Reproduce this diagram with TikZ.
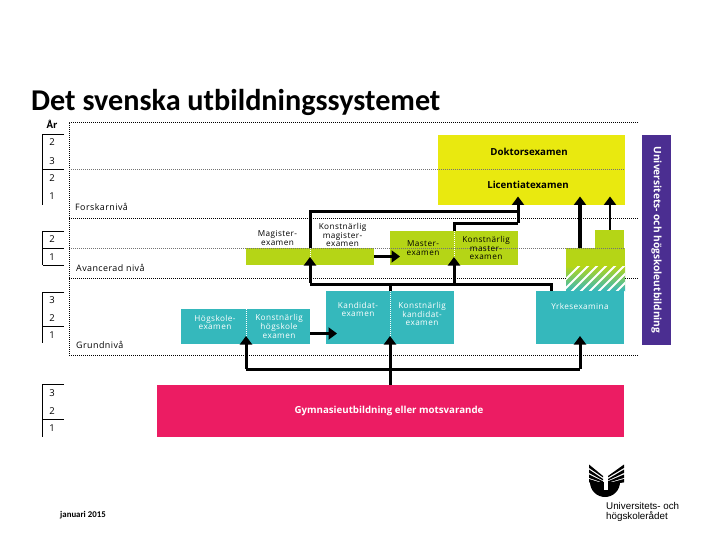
\documentclass[tikz,border=0pt]{standalone}
\usepackage{fontspec}
\setmainfont{Open Sans}
\newfontfamily\titlefont{Carlito}
\newfontfamily\logofont{Liberation Sans}
\newfontfamily\labfont[LetterSpace=5]{Open Sans}
\usetikzlibrary{arrows.meta}
\definecolor{cyellow}{HTML}{E9E90F}
\definecolor{cgreen}{HTML}{B5D516}
\definecolor{cteal}{HTML}{35B8BC}
\definecolor{cpink}{HTML}{EC1C63}
\definecolor{cpurple}{HTML}{4B2E91}
\tikzset{
  x=1pt,y=-1pt,
  blk/.style={fill=#1,draw=none,inner sep=0pt,outer sep=0pt,anchor=north west},
  lab/.style={font=\fontsize{8.2}{8.6}\selectfont\labfont,align=center,inner sep=0pt,text=#1},
  lab/.default=black,
  big/.style={font=\fontsize{9.7}{10}\selectfont\bfseries,inner sep=0pt,text=#1},
  big/.default=black,
  lvl/.style={font=\fontsize{8.9}{10}\selectfont\labfont,inner sep=0pt,anchor=base west},
  num/.style={font=\fontsize{9.5}{10}\selectfont,inner sep=0pt},
  dot/.style={line width=0.8pt,dash pattern=on 1pt off 1pt},
  ldot/.style={line width=0.7pt,dash pattern=on 1pt off 1pt,black!55},
  wdot/.style={line width=0.8pt,dash pattern=on 1pt off 1pt,white},
  scale line/.style={line width=0.8pt},
  conn/.style={line width=3pt,line cap=butt,line join=miter},
  tip/.style={-{Triangle[length=8.5pt,width=12pt]}},
}
\newcommand{\bx}[6]{\node[blk=#2,minimum width=#5-#3,minimum height=#6-#4] (#1) at (#3,#4) {};}
\begin{document}
\begin{tikzpicture}
\useasboundingbox (0,0) rectangle (720,540);
% title
\node[anchor=base west,inner sep=0pt,font=\fontsize{30.2}{32}\selectfont\titlefont\bfseries] (title) at (31,111) {Det svenska utbildningssystemet};
% boxes
\bx{yel}{cyellow}{438}{135}{625}{205}
\bx{pur}{cpurple}{642}{135}{671}{345}
\bx{mag}{cgreen}{246}{248}{374}{265}
\bx{mas}{cgreen}{390}{231}{518}{265}
\bx{grA}{cgreen}{566}{248}{625}{268}
\bx{grB}{cgreen}{595}{230}{624}{248}
\node[inner sep=0pt,outer sep=0pt,anchor=north west,minimum width=59pt,minimum height=25pt,top color=cgreen,bottom color=cteal] (hat) at (566,266) {};
\begin{scope}
\clip (566,266.5) rectangle (625,291);
\foreach \k in {0,...,9}{
  \draw[white,line width=2pt] ({552+\k*9},293) -- ({580+\k*9},265);
}
\end{scope}
\bx{yrk}{cteal}{536}{291}{624}{344}
\bx{kan}{cteal}{326}{291}{454}{344}
\bx{hog}{cteal}{181}{309}{310}{344}
\bx{pink}{cpink}{157}{385}{624}{437}
% dotted guides
\coordinate (fTL) at (69,122); \coordinate (fTR) at (638,122);
\coordinate (fBL) at (69,355); \coordinate (fBR) at (638,355);
\draw[dot] (fTR) -- (fTL) -- (fBL) -- (fBR);
\draw[dot] (69,218) -- (638,218);
\draw[dot] (69,278) -- (566,278);
\draw[dot] (625,278) -- (638,278);
\draw[ldot] (69,169) -- (625,169);
\draw[ldot] (69,248) -- (625,248);
% white divider dots
\draw[wdot] (246,309) -- (246,338);
\draw[wdot] (390,291) -- (390,338);
\draw[wdot] (310,248) -- (310,258);
\draw[wdot] (454,231) -- (454,258);
% year scales
\foreach \t/\m/\b in {134/169.5/205, 231/248/265, 292/326/343, 384/419/437}{
  \draw[scale line] (64,\t) -- (42.5,\t) -- (42.5,\b);
  \draw[scale line] (42.5,\m) -- (64,\m);
}
\draw[scale line] (42.5,265) -- (64,265);
\node[font=\fontsize{9.5}{10}\selectfont\bfseries,inner sep=0pt] (ar) at (52,124) {År};
\foreach \y/\n in {142/2,161/3,178/2,196/1,239/2,257/1,300/3,318/2,335/1,393/3,411/2,428/1}{
  \node[num] at (52,\y) {\n};
}
% level labels
\node[lvl] (l1) at (75,211) {Forskarnivå};
\node[lvl] (l2) at (76,271) {Avancerad nivå};
\node[lvl] (l3) at (76,348) {Grundnivå};
% box labels
\node[lab] (t1) at (277.5,238) {Magister-\\examen};
\node[lab] (t2) at (342.5,235) {Konstnärlig\\magister-\\examen};
\node[lab] (t3) at (423,248) {Master-\\examen};
\node[lab] (t4) at (486,248) {Konstnärlig\\master-\\examen};
\node[lab=white] (t5) at (215,322.5) {Högskole-\\examen};
\node[lab=white] (t6) at (279,326.5) {Konstnärlig\\högskole\\examen};
\node[lab=white] (t7) at (358,309.5) {Kandidat-\\examen};
\node[lab=white] (t8) at (422,314) {Konstnärlig\\kandidat-\\examen};
\node[lab=white] (t9) at (580,306) {Yrkesexamina};
\node[big] (t10) at (529,152) {Doktorsexamen};
\node[big] (t11) at (528,185) {Licentiatexamen};
\node[big=white] (t12) at (389,411) {Gymnasieutbildning eller motsvarande};
\node[rotate=-90,inner sep=0pt,text=white,font=\fontsize{10.2}{11}\selectfont\bfseries] (t13) at (656.5,240) {Universitets- och högskoleutbildning};
\node[anchor=base west,inner sep=0pt,font=\fontsize{8.8}{9}\selectfont\titlefont\bfseries] (date) at (60,517) {januari 2015};
% connectors
\coordinate (jL) at (246,369);
\coordinate (jM) at (390,369);
\coordinate (jR) at (580,369);
\coordinate (k1) at (310,284);
\coordinate (k2) at (390,284);
\coordinate (k3) at (454,284);
\coordinate (k4) at (551,284);
\coordinate (m1) at (310,212);
\coordinate (m2) at (518,212);
\coordinate (m3) at (454,223.5);
\coordinate (m4) at (518,223.5);
\draw[conn,line cap=square] (jL) -- (jR);
\draw[conn,tip] (jL) -- (246,336);
\draw[conn,tip] (pink.north -| jM) -- (390,336);
\draw[conn,tip] (jR) -- (580,336);
\draw[conn,tip] (hog.east |- 0,333.5) -- (337,333.5);
\draw[conn] (k1) -- (k4) -- (yrk.north -| k4);
\draw[conn] (k2) -- (kan.north -| k2);
\draw[conn,tip] ([yshift=1.5pt]k1) -- (310,257);
\draw[conn,tip] (k3) -- (454,257);
\draw[conn] (310,248) -- (m1) -- (m2);
\draw[conn] (mas.north -| m3) -- (m3) -- (m4);
\draw[conn,tip] (m2 |- m4) -- (518,196.5);
\draw[conn] (m1) -- (m2) -- (518,206);
\draw[conn,tip] (mag.east |- 0,256.5) -- (400,256.5);
\draw[conn,line width=3.5pt,tip] (grA.north -| jR) -- (580,196.5);
\draw[conn,line width=2.2pt,tip] (grB.north -| 0,0) ++(610,0) -- (610,196.5);
% logo
\fill (590,482) arc[start angle=180,end angle=0,radius=15] -- cycle;
\fill[white] (603.5,480) rectangle (607.5,490);
\foreach \a/\b in {464.5/476, 469.5/479, 474.5/481.3, 479/483.3}{
  \fill (589,\a) -- (589,{\a+3.4}) -- (603,{\b+1.4}) -- (603,\b) -- cycle;
  \fill (624,\a) -- (624,{\a+3.4}) -- (608,{\b+1.4}) -- (608,\b) -- cycle;
}
\node[anchor=base west,align=left,inner sep=0pt,font=\fontsize{9.8}{9.6}\selectfont\logofont] (logo) at (606,519) {Universitets- och\\högskolerådet};
\end{tikzpicture}
\end{document}
